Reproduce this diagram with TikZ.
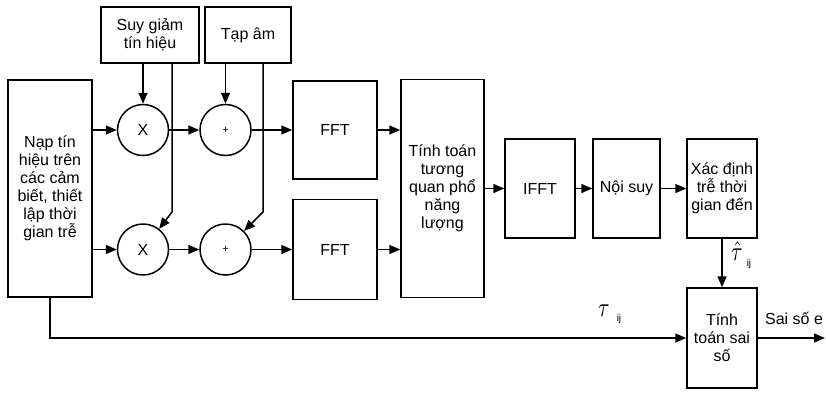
\documentclass[tikz,border=0pt]{standalone}
\usepackage{fontspec}
\setmainfont{Liberation Sans}
\usetikzlibrary{arrows.meta,calc}
\newcommand\dfont{\fontsize{16}{18}\selectfont}
\begin{document}
\begin{tikzpicture}[x=1pt,y=-1pt,
  box/.style={draw, line width=1.5pt, align=center, inner sep=0pt, font=\dfont},
  circ/.style={draw, circle, line width=1.5pt, minimum size=51pt, inner sep=0pt, font=\dfont},
  arr/.style={-{Triangle[length=11pt,width=9pt]}, line width=1.5pt},
  lbl/.style={inner sep=0pt}]
\useasboundingbox (0,0) rectangle (826,394);
\node[box, minimum width=84, minimum height=217] (lb) at (50,188.5) {Nạp tín\\hiệu trên\\các cảm\\biết, thiết\\lập thời\\gian trễ};
\node[box, minimum width=98, minimum height=56] (sg) at (150,35) {Suy giảm\\tín hiệu};
\node[box, minimum width=86, minimum height=56] (ta) at (248,35) {Tạp âm};
\node[circ] (c1) at (143,130) {X};
\node[circ, font=\fontsize{11}{12}\selectfont] (p1) at (225.5,130) {+};
\node[circ] (c2) at (143,249.5) {X};
\node[circ, font=\fontsize{11}{12}\selectfont] (p2) at (225.5,249.5) {+};
\node[box, minimum width=84, minimum height=98] (f1) at (335,130) {FFT};
\node[box, minimum width=84, minimum height=100] (f2) at (335,249.5) {FFT};
\node[box, minimum width=83, minimum height=218] (big) at (442.5,188.5) {Tính toán\\tương\\quan phổ\\năng\\lượng};
\node[box, minimum width=70, minimum height=99] (ifft) at (540,188.5) {IFFT};
\node[box, minimum width=67, minimum height=99] (ns) at (626.5,188.5) {Nội suy};
\node[box, minimum width=70, minimum height=99] (xd) at (722,188.5) {Xác định\\trễ thời\\gian đến};
\node[box, minimum width=70, minimum height=100] (ss) at (722,338) {Tính\\toán sai\\số};

\draw[arr] (lb.east |- c1) -- (c1);
\draw[arr] (lb.east |- c2) -- (c2);
\draw[arr] (sg.south -| c1) -- (c1);
\draw[arr] (ta.south -| p1) -- (p1);
\draw[arr] (c1) -- (p1);
\draw[arr] (c2) -- (p2);
\draw[arr] (p1) -- (f1);
\draw[arr] (p2) -- (f2);
\coordinate (k1) at (172,212);
\coordinate (k2) at (263,212);
\draw[arr] (sg.south -| k1) -- (k1) -- (c2.52);
\draw[arr] (ta.south -| k2) -- (k2) -- (p2.45);
\draw[arr] (f1) -- (big.west |- f1);
\draw[arr] (f2) -- (big.west |- f2);
\draw[arr] (big) -- (ifft);
\draw[arr] (ifft) -- (ns);
\draw[arr] (ns) -- (xd);
\draw[arr] (xd) -- (ss);
\draw[arr] (lb.south) |- (ss.west);
\coordinate (out) at (825,338);
\draw[arr] (ss) -- (out);

\node[lbl, anchor=south west] (t1) at (598,324) {\scalebox{2.1}[2.7]{$\tau$}\hspace{7pt}\raisebox{-5pt}{\fontsize{10}{10}\selectfont ij}};
\node[lbl, anchor=south west] (t2) at (731,269) {\scalebox{2.1}[2.7]{$\hat{\tau}$}\hspace{4pt}\raisebox{-6pt}{\fontsize{10}{10}\selectfont ij}};
\node[lbl, font=\dfont] (se) at (794,318) {Sai số e};
\end{tikzpicture}
\end{document}
